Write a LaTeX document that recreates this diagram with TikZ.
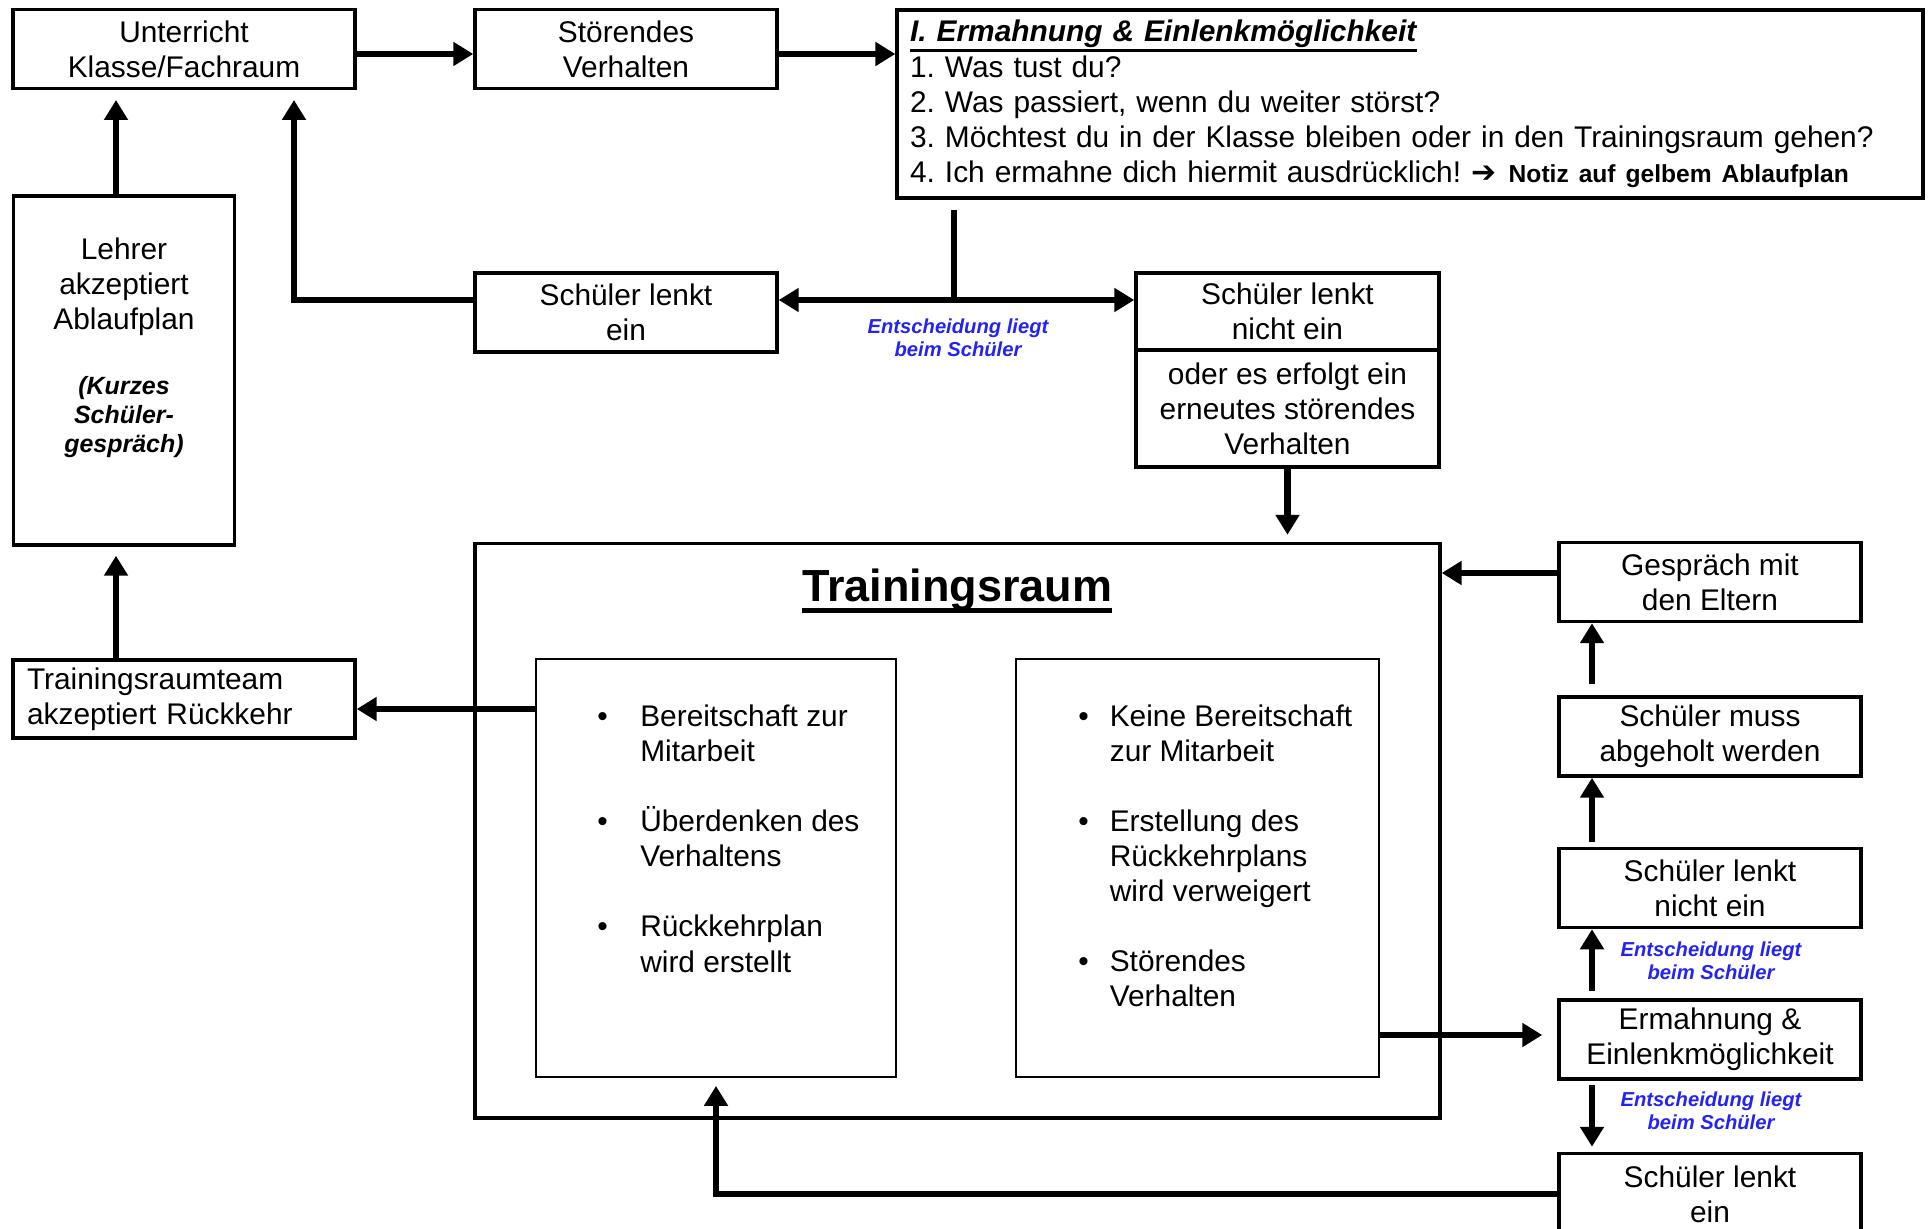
\documentclass[tikz,border=0pt]{standalone}
\usepackage{fontspec}
\setmainfont{Liberation Sans}
\newfontfamily\symfont{DejaVu Sans}
\usetikzlibrary{arrows.meta,positioning}
\frenchspacing

\definecolor{decblue}{RGB}{35,35,245}
\newcommand\kurzfont{\fontsize{14.2}{16.5}\selectfont\bfseries\itshape}
% underline: #1 depth below baseline, #2 thickness, #3 text
\newcommand\ulbar[3]{\setbox0=\hbox{#3}\leavevmode\rlap{\rule[-#1]{\wd0}{#2}}\box0}

\tikzset{
  box/.style={draw, line width=2pt, minimum width=6.04cm, minimum height=1.58cm,
    align=center, inner sep=0pt, font=\fontsize{17}{20}\selectfont},
  thinbox/.style={draw, line width=1.1pt, minimum width=7.2cm, minimum height=8.36cm, inner sep=0pt},
  txt/.style={inner sep=0pt, font=\fontsize{17}{20}\selectfont},
  arrow/.style={line width=3.7pt, -{Triangle[length=0.4cm,width=0.46cm]}},
  stem/.style={line width=3pt},
  decision/.style={text=decblue, align=center, inner sep=0pt,
    font=\fontsize{11.5}{13}\selectfont\bfseries\itshape},
}

\begin{document}
\begin{tikzpicture}[x=0.02cm, y=-0.02cm]
    \useasboundingbox (0,0) rectangle (1930,1229);

    % Helper coordinates
    \coordinate (ty) at (0,54);
    \coordinate (u1) at (116,100);
    \coordinate (u2) at (294,100);
    \coordinate (stemtop) at (954,210);
    \coordinate (split) at (954,300);
    \coordinate (rx) at (1592,0);
    \coordinate (tm) at (0,709);
    \coordinate (tr) at (0,573);
    \coordinate (kr) at (0,1035);

    % Top row
    \node[box, minimum width=6.84cm] (unterricht) at (184,49) {Unterricht\\Klasse/Fachraum};
    \node[box] (stoerend) at (626,49) {Störendes\\Verhalten};
    \node[box, minimum width=20.52cm, minimum height=3.76cm, align=left, text width=20cm] (ermahn) at (1410,104)
        {\ulbar{5.8pt}{1.8pt}{\textbf{\textit{I. Ermahnung \& Einlenkmöglichkeit}}}\\
         1. Was tust du?\\
         2. Was passiert, wenn du weiter störst?\\
         3. Möchtest du in der Klasse bleiben oder in den Trainingsraum gehen?\\
         4. Ich ermahne dich hiermit ausdrücklich! {\symfont\bfseries ➔}\hspace{0.25cm}{\fontsize{14}{20}\selectfont\bfseries Notiz auf gelbem Ablaufplan}};

    % Left column
    \node[box, minimum width=4.42cm, minimum height=6.98cm] (lehrer) at (124,370.5) {};
    \node[txt] (lehrertext) at (124,349)
        {\begin{tabular}{@{}c@{}}
         Lehrer\\ akzeptiert\\ Ablaufplan\\[0.6cm]
         \kurzfont (Kurzes\\[-0.12cm]
         \kurzfont Schüler-\\[-0.12cm]
         \kurzfont gespräch)
         \end{tabular}};
    \node[box, minimum width=6.84cm, minimum height=1.56cm, align=left, text width=6.28cm] (team) at (184,699)
        {Trainingsraumteam\\akzeptiert Rückkehr};

    % Middle row
    \node[box] (lenktein) at (626,312.5) {Schüler lenkt\\ein};
    \node[box, minimum width=6.06cm, minimum height=1.54cm] (nichtein) at (1287.5,311.5) {Schüler lenkt\\nicht ein};
    \node[box, minimum width=6.06cm, minimum height=2.34cm, below=-2pt of nichtein] (erneut)
        {oder es erfolgt ein\\erneutes störendes\\Verhalten};
    \node[decision] (dec1) at (958,338) {Entscheidung liegt\\beim Schüler};

    % Trainingsraum
    \node[box, minimum width=19.3cm, minimum height=11.49cm] (training) at (957.5,830.75) {};
    \node[inner sep=0pt, anchor=base, font=\fontsize{25.6}{30}\selectfont\bfseries] (title) at (957,601)
        {\ulbar{6.8pt}{2.6pt}{Trainingsraum}};
    \node[thinbox] (bereit) at (716,868) {};
    \node[thinbox, minimum width=7.26cm] (keine) at (1197.5,868) {};
    \node[txt, anchor=base west] (bereitlist) at (597,726)
        {\begin{tabular}[t]{@{}l@{\hspace{0.65cm}}l@{}}
         \textbullet & Bereitschaft zur\\
                     & Mitarbeit\\[0.7cm]
         \textbullet & Überdenken des\\
                     & Verhaltens\\[0.7cm]
         \textbullet & Rückkehrplan\\
                     & wird erstellt
         \end{tabular}};
    \node[txt, anchor=base west] (keinelist) at (1078,726)
        {\begin{tabular}[t]{@{}l@{\hspace{0.42cm}}l@{}}
         \textbullet & Keine Bereitschaft\\
                     & zur Mitarbeit\\[0.7cm]
         \textbullet & Erstellung des\\
                     & Rückkehrplans\\
                     & wird verweigert\\[0.7cm]
         \textbullet & Störendes\\
                     & Verhalten
         \end{tabular}};

    % Right column
    \node[box] (eltern) at (1710,582) {Gespräch mit\\den Eltern};
    \node[box] (abholen) at (1710,736.5) {Schüler muss\\abgeholt werden};
    \node[box] (nichtein2) at (1710,888) {Schüler lenkt\\nicht ein};
    \node[box] (ermahn2) at (1710,1039.5) {Ermahnung \&\\Einlenkmöglichkeit};
    \node[box, minimum height=1.62cm] (lenktein2) at (1710,1194) {Schüler lenkt\\ein};
    \node[decision] (dec2) at (1711,961) {Entscheidung liegt\\beim Schüler};
    \node[decision] (dec3) at (1711,1111) {Entscheidung liegt\\beim Schüler};

    % Connectors
    \draw[arrow] (unterricht.east |- ty) -- (stoerend.west |- ty);
    \draw[arrow] (stoerend.east |- ty) -- (ermahn.west |- ty);
    \draw[arrow] (lehrer.north -| u1) -- (u1);
    \draw[arrow] (lenktein.west |- split) -| (u2);
    \draw[stem] (stemtop) -- (split);
    \draw[arrow] (split) -- (split -| lenktein.east);
    \draw[arrow] (split) -- (split -| nichtein.west);
    \draw[arrow, shorten >=0.14cm] (erneut.south) -- (erneut.south |- training.north);
    \draw[arrow] (eltern.west |- tr) -- (training.east |- tr);
    \draw[arrow, shorten <=0.22cm] (abholen.north -| rx) -- (eltern.south -| rx);
    \draw[arrow, shorten <=0.1cm] (nichtein2.north -| rx) -- (abholen.south -| rx);
    \draw[arrow, shorten <=0.15cm] (ermahn2.north -| rx) -- (nichtein2.south -| rx);
    \draw[arrow, shorten <=0.08cm, shorten >=0.1cm] (ermahn2.south -| rx) -- (lenktein2.north -| rx);
    \draw[arrow, shorten >=0.3cm] (keine.east |- kr) -- (ermahn2.west |- kr);
    \draw[arrow, shorten >=0.16cm] (lenktein2.west) -| (bereit.south);
    \draw[arrow] (bereit.west |- tm) -- (team.east |- tm);
    \draw[arrow, shorten >=0.18cm] (team.north -| u1) -- (lehrer.south -| u1);
\end{tikzpicture}
\end{document}
